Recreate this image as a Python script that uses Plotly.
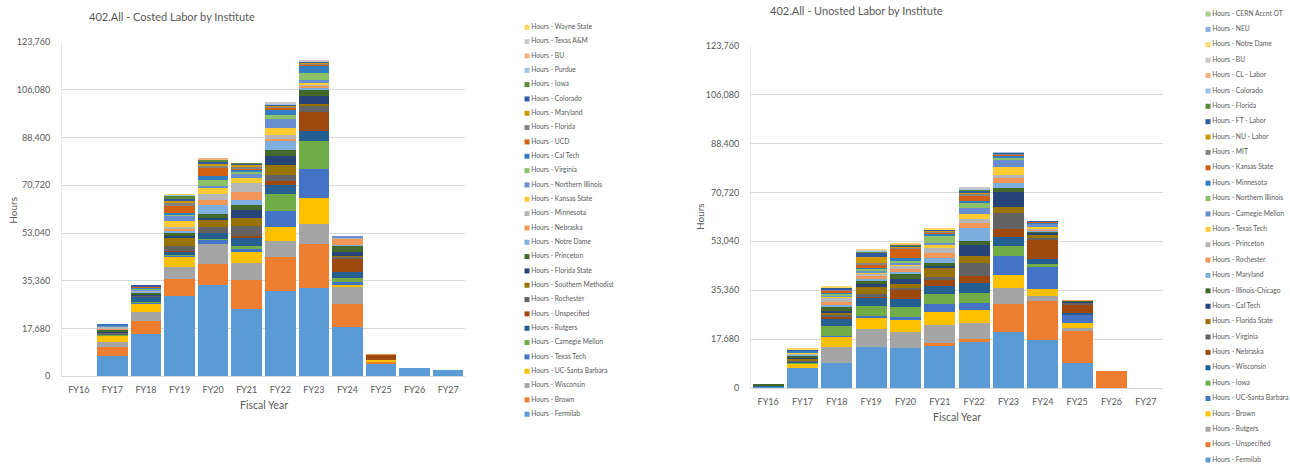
import plotly.graph_objects as go

W, H = 1290, 465

years = ["FY16", "FY17", "FY18", "FY19", "FY20", "FY21", "FY22", "FY23", "FY24", "FY25", "FY26", "FY27"]
y_ticks = [0, 17680, 35360, 53040, 70720, 88400, 106080, 123760]

left_title = "402.All - Costed Labor by Institute"
right_title = "402.All - Unosted Labor by Institute"

# ---------------- Costed labor (left), bottom -> top ----------------
c_fermilab = [0, 7500, 15600, 29700, 33700, 24900, 31450, 32800, 18390, 4690, 3000, 2300]
c_brown = [0, 3450, 4800, 6300, 8000, 10600, 12590, 16170, 8390, 490, 0, 0]
c_wisconsin = [0, 1600, 3330, 4570, 7150, 6400, 6170, 7280, 6170, 0, 0, 0]
c_ucsb = [0, 2450, 3200, 3700, 0, 3950, 5180, 9630, 860, 740, 0, 0]
c_texas_tech = [0, 150, 300, 500, 1700, 1230, 5800, 10740, 1230, 0, 0, 0]
c_carnegie = [0, 150, 200, 200, 200, 1230, 6290, 10610, 1230, 0, 0, 0]
c_rutgers = [0, 300, 2000, 1350, 2450, 3200, 3210, 3580, 2470, 0, 0, 0]
c_unspecified = [0, 0, 0, 100, 0, 500, 1730, 7160, 4690, 1970, 0, 0]
c_rochester = [0, 600, 300, 1850, 2200, 3450, 2100, 2220, 860, 0, 0, 0]
c_smu = [0, 100, 200, 3100, 2450, 3100, 3700, 740, 250, 0, 0, 0]
c_florida_state = [0, 300, 300, 750, 850, 3100, 3460, 2960, 1600, 0, 0, 0]
c_princeton = [0, 600, 800, 750, 1350, 1850, 2100, 2340, 2100, 0, 0, 0]
c_notre_dame = [0, 300, 200, 1000, 3300, 1850, 3450, 370, 370, 0, 0, 0]
c_nebraska = [0, 150, 300, 600, 2100, 2700, 620, 990, 2220, 250, 0, 0]
c_minnesota = [0, 600, 300, 850, 2200, 3450, 1480, 250, 490, 0, 0, 0]
c_kansas_state = [0, 150, 100, 2200, 2100, 1850, 2470, 740, 0, 0, 0, 0]
c_n_illinois = [0, 400, 300, 1850, 600, 1600, 3330, 1110, 370, 0, 0, 0]
c_virginia = [0, 100, 200, 600, 2200, 740, 1600, 2470, 0, 0, 0, 0]
c_caltech = [0, 200, 300, 600, 1500, 740, 2100, 2840, 0, 0, 0, 0]
c_ucd = [0, 0, 600, 2450, 3200, 600, 620, 250, 0, 0, 0, 0]
c_florida = [0, 0, 0, 1250, 600, 600, 490, 620, 0, 0, 0, 0]
c_maryland = [0, 0, 0, 750, 850, 600, 490, 250, 0, 0, 0, 0]
c_colorado = [0, 0, 300, 750, 600, 370, 370, 250, 0, 0, 0, 0]
c_iowa = [0, 0, 0, 1000, 850, 250, 0, 0, 0, 0, 0, 0]
c_purdue = [0, 0, 0, 350, 0, 0, 250, 0, 0, 0, 0, 0]
c_bu = [0, 0, 0, 0, 350, 0, 0, 120, 0, 0, 0, 0]
c_texas_am = [0, 0, 0, 0, 0, 0, 250, 250, 0, 0, 0, 0]
c_wayne_state = [0, 0, 0, 250, 0, 0, 0, 0, 0, 0, 0, 0]

costed_names = ["Hours - Fermilab", "Hours - Brown", "Hours - Wisconsin", "Hours - UC-Santa Barbara",
                "Hours - Texas Tech", "Hours - Carnegie Mellon", "Hours - Rutgers", "Hours - Unspecified",
                "Hours - Rochester", "Hours - Southern Methodist", "Hours - Florida State", "Hours - Princeton",
                "Hours - Notre Dame", "Hours - Nebraska", "Hours - Minnesota", "Hours - Kansas State",
                "Hours - Northern Illinois", "Hours - Virginia", "Hours - Cal Tech", "Hours - UCD",
                "Hours - Florida", "Hours - Maryland", "Hours - Colorado", "Hours - Iowa",
                "Hours - Purdue", "Hours - BU", "Hours - Texas A&M", "Hours - Wayne State"]
costed_values = [c_fermilab, c_brown, c_wisconsin, c_ucsb, c_texas_tech, c_carnegie, c_rutgers,
                 c_unspecified, c_rochester, c_smu, c_florida_state, c_princeton, c_notre_dame,
                 c_nebraska, c_minnesota, c_kansas_state, c_n_illinois, c_virginia, c_caltech, c_ucd,
                 c_florida, c_maryland, c_colorado, c_iowa, c_purdue, c_bu, c_texas_am, c_wayne_state]

# ---------------- Uncosted labor (right), bottom -> top ----------------
u_fermilab = [600, 7110, 8920, 14940, 14340, 15540, 16510, 20360, 17470, 8920, 0, 0]
u_unspecified = [0, 0, 0, 0, 0, 600, 1200, 10000, 13980, 12050, 6270, 0]
u_rutgers = [0, 0, 6030, 6270, 6030, 6630, 5900, 5780, 1690, 600, 0, 0]
u_brown = [0, 1690, 3620, 3980, 4220, 4580, 4580, 4820, 2530, 2050, 0, 0]
u_ucsb = [0, 200, 240, 840, 960, 3010, 2650, 6870, 8430, 3130, 0, 0]
u_iowa = [0, 200, 3620, 3620, 3620, 3490, 3370, 3490, 720, 0, 0, 0]
u_wisconsin = [300, 400, 2770, 2770, 3010, 3010, 3860, 3250, 1690, 240, 0, 0]
u_nebraska = [0, 200, 600, 840, 3490, 2170, 2410, 2770, 6990, 3010, 0, 0]
u_virginia = [0, 400, 600, 720, 360, 960, 4580, 6030, 840, 840, 0, 0]
u_florida_state = [0, 400, 840, 2650, 1570, 3250, 2650, 2050, 960, 0, 0, 0]
u_caltech = [0, 700, 720, 840, 1690, 840, 3980, 5540, 840, 600, 0, 0]
u_il_chicago = [450, 700, 1200, 1200, 1930, 1200, 1450, 1330, 720, 240, 0, 0]
u_maryland = [0, 200, 840, 840, 840, 1570, 4580, 1930, 240, 0, 0, 0]
u_rochester = [0, 150, 960, 1200, 840, 2050, 2050, 1570, 480, 120, 0, 0]
u_princeton = [0, 300, 1690, 720, 1450, 1570, 1200, 1200, 240, 0, 0, 0]
u_texas_tech = [0, 150, 360, 600, 480, 1200, 1810, 2770, 480, 0, 0, 0]
u_carnegie = [0, 150, 480, 600, 600, 840, 2170, 2530, 1200, 0, 0, 0]
u_n_illinois = [0, 150, 720, 720, 600, 2410, 1810, 1080, 240, 0, 0, 0]
u_minnesota = [0, 600, 480, 480, 840, 960, 960, 720, 360, 0, 0, 0]
u_kansas_state = [0, 0, 240, 480, 3620, 600, 2050, 480, 120, 0, 0, 0]
u_mit = [0, 0, 960, 720, 360, 360, 600, 240, 120, 0, 0, 0]
u_nu_labor = [0, 0, 0, 2170, 240, 240, 600, 240, 0, 0, 0, 0]
u_ft_labor = [0, 400, 480, 2050, 360, 240, 600, 240, 120, 0, 0, 0]
u_florida = [0, 0, 240, 360, 360, 0, 240, 0, 0, 0, 0, 0]
u_colorado = [0, 0, 0, 240, 0, 240, 360, 120, 0, 0, 0, 0]
u_cl_labor = [0, 0, 0, 0, 480, 0, 0, 0, 0, 0, 0, 0]
u_bu = [0, 0, 0, 240, 0, 0, 360, 0, 0, 0, 0, 0]
u_notre_dame = [0, 300, 240, 240, 240, 120, 0, 0, 0, 0, 0, 0]
u_neu = [0, 0, 0, 0, 0, 0, 0, 0, 0, 0, 0, 0]
u_cern = [0, 0, 0, 0, 0, 0, 0, 0, 0, 0, 0, 0]

uncosted_names = ["Hours - Fermilab", "Hours - Unspecified", "Hours - Rutgers", "Hours - Brown",
                  "Hours - UC-Santa Barbara", "Hours - Iowa", "Hours - Wisconsin", "Hours - Nebraska",
                  "Hours - Virginia", "Hours - Florida State", "Hours - Cal Tech", "Hours - Illinois-Chicago",
                  "Hours - Maryland", "Hours - Rochester", "Hours - Princeton", "Hours - Texas Tech",
                  "Hours - Carnegie Mellon", "Hours - Northern Illinois", "Hours - Minnesota",
                  "Hours - Kansas State", "Hours - MIT", "Hours - NU - Labor", "Hours - FT - Labor",
                  "Hours - Florida", "Hours - Colorado", "Hours - CL - Labor", "Hours - BU",
                  "Hours - Notre Dame", "Hours - NEU", "Hours - CERN Accnt OT"]
uncosted_values = [u_fermilab, u_unspecified, u_rutgers, u_brown, u_ucsb, u_iowa, u_wisconsin,
                   u_nebraska, u_virginia, u_florida_state, u_caltech, u_il_chicago, u_maryland,
                   u_rochester, u_princeton, u_texas_tech, u_carnegie, u_n_illinois, u_minnesota,
                   u_kansas_state, u_mit, u_nu_labor, u_ft_labor, u_florida, u_colorado, u_cl_labor,
                   u_bu, u_notre_dame, u_neu, u_cern]

palette = ["#5B9BD5", "#ED7D31", "#A5A5A5", "#FFC000", "#4472C4", "#70AD47",
           "#255E91", "#9E480E", "#636363", "#997300", "#264478", "#43682B",
           "#7CAFDD", "#F1975A", "#B7B7B7", "#FFCD33", "#698ED0", "#8CC168",
           "#327DC2", "#D26012", "#848484", "#CC9A00", "#335AA1", "#5A8A39",
           "#9DC3E6", "#F4B183", "#C9C9C9", "#FFD966", "#8FAADC", "#A9D18E"]

TXT = "#595959"
GRID = "#D9D9D9"
FONT = "Lato"


def px(x):
    return x / W


def py(y):
    return 1 - y / H


fig = go.Figure()

# bars
for i, (name, vals) in enumerate(zip(costed_names, costed_values)):
    fig.add_trace(go.Bar(x=years, y=vals, name=name, marker=dict(color=palette[i], line=dict(width=0)),
                         xaxis="x", yaxis="y", showlegend=False))
for i, (name, vals) in enumerate(zip(uncosted_names, uncosted_values)):
    fig.add_trace(go.Bar(x=years, y=vals, name=name, marker=dict(color=palette[i], line=dict(width=0)),
                         xaxis="x2", yaxis="y2", showlegend=False))


# custom legends (Excel shows them in reverse stacking order)
def add_legend(names, xa, ya, size):
    n = len(names)
    order = list(range(n))[::-1]
    fig.add_trace(go.Scatter(
        x=[0] * n, y=list(range(n)),
        mode="markers+text",
        marker=dict(symbol="square", size=5, color=[palette[k] for k in order], line=dict(width=0)),
        text=[names[k] for k in order], textposition="middle right",
        textfont=dict(family=FONT, size=size, color=TXT),
        cliponaxis=False, hoverinfo="skip", showlegend=False,
        xaxis=xa, yaxis=ya))


add_legend(costed_names, "x3", "y3", 6.7)
add_legend(uncosted_names, "x4", "y4", 6.7)


def legend_range(first_px, step_px):
    span = H / step_px
    top = -first_px / step_px
    return [top + span, top]


axis_common = dict(tickfont=dict(family=FONT, size=9, color=TXT), fixedrange=True)

fig.update_layout(
    width=W, height=H,
    margin=dict(l=0, r=0, t=0, b=0),
    paper_bgcolor="white", plot_bgcolor="white",
    barmode="stack", bargap=0.09,
    showlegend=False,
    font=dict(family=FONT, color=TXT),
    xaxis=dict(domain=[px(62), px(465)], anchor="y", showline=True, linecolor=GRID, linewidth=1,
               ticks="", ticklabelstandoff=5, automargin=False, **axis_common),
    yaxis=dict(domain=[py(376.3), py(42)], anchor="x", range=[0, 123760], tickvals=y_ticks,
               tickformat=",", showgrid=True, gridcolor=GRID, gridwidth=1, zeroline=False,
               showline=True, linecolor="#E8E8E8", ticks="", ticklabelstandoff=9, automargin=False,
               **axis_common),
    xaxis2=dict(domain=[px(751), px(1163)], anchor="y2", showline=True, linecolor=GRID, linewidth=1,
                ticks="", ticklabelstandoff=5, automargin=False, **axis_common),
    yaxis2=dict(domain=[py(388), py(45.7)], anchor="x2", range=[0, 123760], tickvals=y_ticks,
                tickformat=",", showgrid=True, gridcolor=GRID, gridwidth=1, zeroline=False,
                showline=True, linecolor="#E8E8E8", ticks="", ticklabelstandoff=9, automargin=False,
                **axis_common),
    xaxis3=dict(domain=[px(527), px(690)], range=[0, 1], visible=False, fixedrange=True, anchor="y3"),
    yaxis3=dict(domain=[0, 1], range=legend_range(27.3, 14.33), visible=False, fixedrange=True, anchor="x3"),
    xaxis4=dict(domain=[px(1208), 1.0], range=[0, 1], visible=False, fixedrange=True, anchor="y4"),
    yaxis4=dict(domain=[0, 1], range=legend_range(14.0, 15.38), visible=False, fixedrange=True, anchor="x4"),
)

annos = [
    dict(text=left_title, x=px(172), y=py(16), size=11, angle=0),
    dict(text=right_title, x=px(856), y=py(10.3), size=11, angle=0),
    dict(text="Fiscal Year", x=px(263.5), y=py(405), size=10.5, angle=0),
    dict(text="Fiscal Year", x=px(957), y=py(417), size=10.5, angle=0),
    dict(text="Hours", x=px(12.7), y=py(210), size=10, angle=-90),
    dict(text="Hours", x=px(700), y=py(217), size=10, angle=-90),
]
for a in annos:
    fig.add_annotation(text=a["text"], x=a["x"], y=a["y"], xref="paper", yref="paper",
                       xanchor="center", yanchor="middle", showarrow=False, textangle=a["angle"],
                       font=dict(family=FONT, size=a["size"], color=TXT))

fig.write_html("out.html")
